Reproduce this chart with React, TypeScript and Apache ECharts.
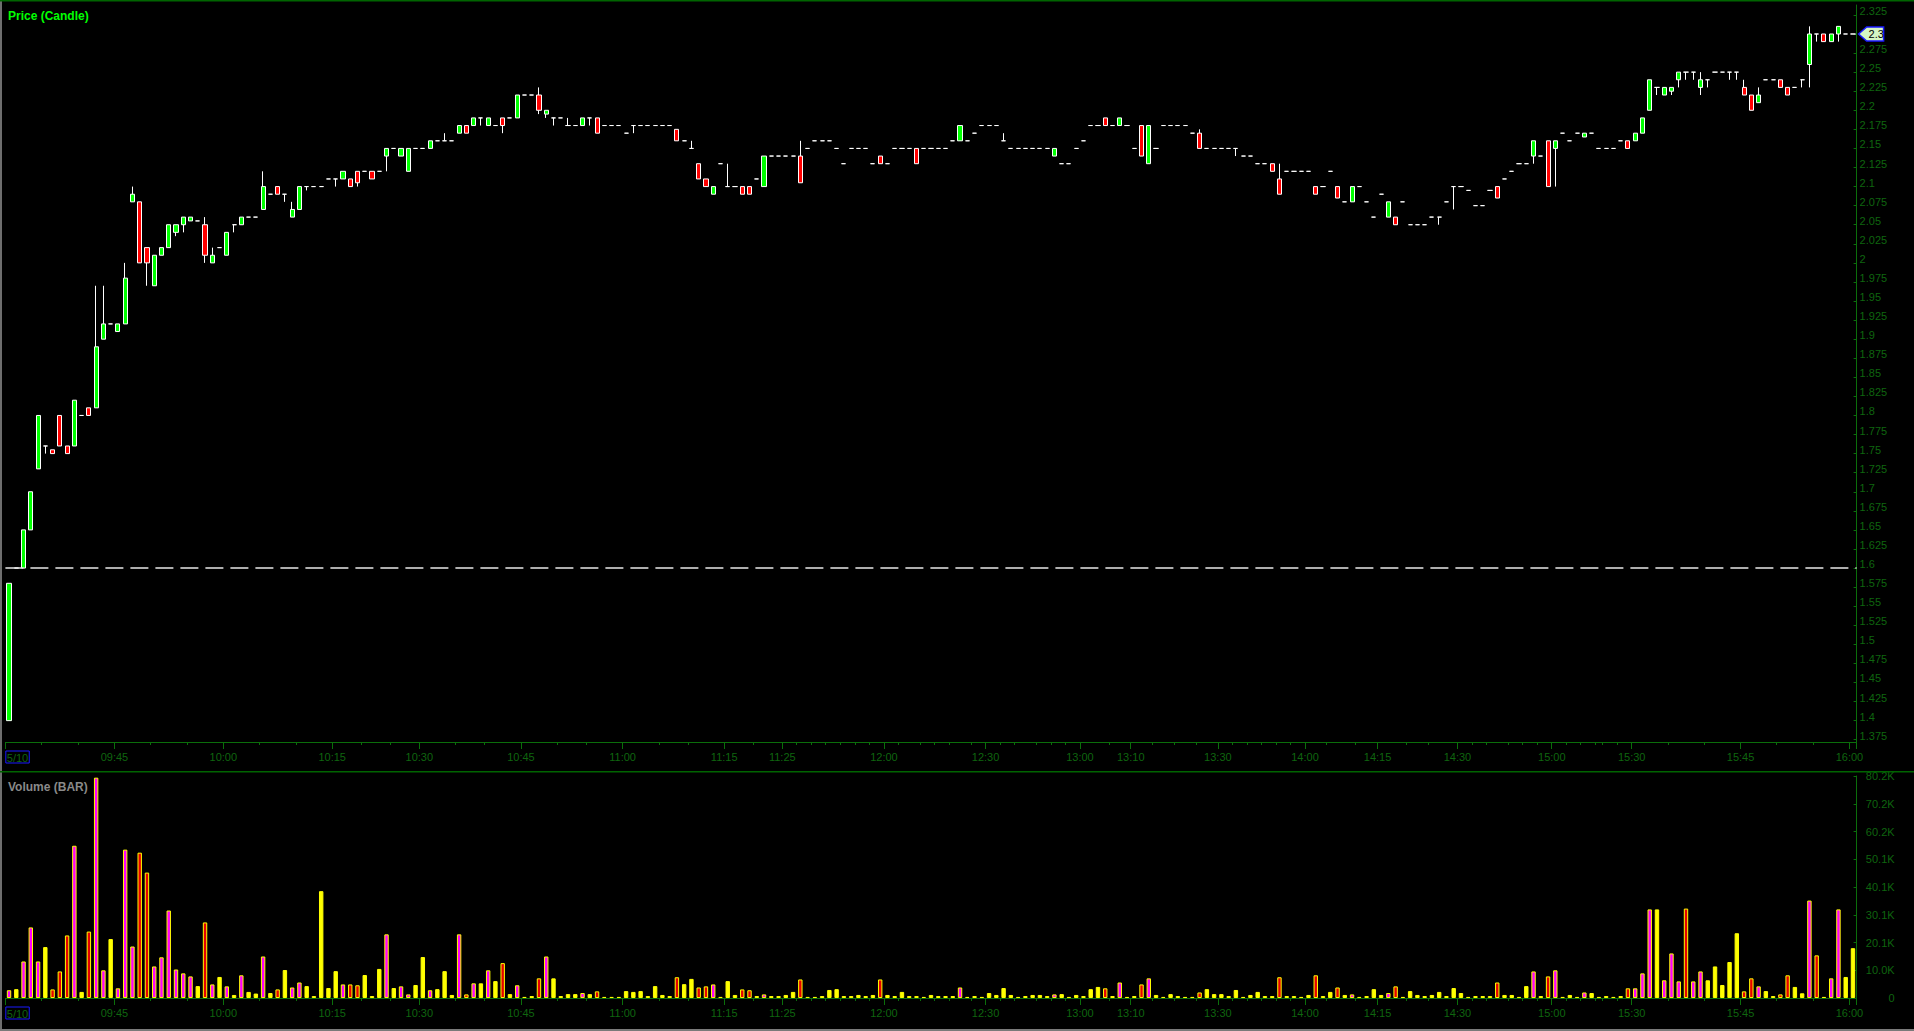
import React, { useEffect, useRef } from 'react';
import * as echarts from 'echarts';

// ---------- DATA ----------
// each row: [open, close, low, high]; [open, close] => no wicks; [price] => flat doji
const candles: number[][] = [
  [1.40, 1.58], [1.60], [1.60, 1.65], [1.65, 1.70], [1.73, 1.80],
  [1.76, 1.76, 1.75, 1.76], [1.755, 1.75], [1.80, 1.76], [1.76, 1.75], [1.76, 1.82], // 10
  [1.80], [1.81, 1.80], [1.81, 1.89, 1.81, 1.97], [1.90, 1.92, 1.90, 1.97], [1.92],
  [1.91, 1.92], [1.92, 1.98, 1.92, 2.00], [2.08, 2.09, 2.08, 2.10], [2.08, 2.00], [2.02, 2.00, 1.97, 2.02], // 20
  [1.97, 2.01], [2.01, 2.02], [2.02, 2.05], [2.04, 2.05, 2.035, 2.05], [2.05, 2.06, 2.04, 2.06],
  [2.055, 2.06], [2.055], [2.05, 2.01, 2.00, 2.06], [2.00, 2.01, 2.00, 2.02], [2.02], // 30
  [2.01, 2.04], [2.05, 2.05, 2.04, 2.05], [2.05, 2.06], [2.06], [2.06],
  [2.07, 2.10, 2.07, 2.12], [2.09], [2.10, 2.09], [2.09, 2.09, 2.08, 2.09], [2.06, 2.07, 2.06, 2.08], // 40
  [2.07, 2.10], [2.10, 2.10, 2.095, 2.10], [2.10], [2.10], [2.11],
  [2.11, 2.11, 2.10, 2.11], [2.11, 2.12], [2.11, 2.10], [2.12, 2.105, 2.10, 2.12], [2.12], // 50
  [2.12, 2.11], [2.12], [2.14, 2.15, 2.12, 2.15], [2.15], [2.14, 2.15],
  [2.12, 2.15], [2.15], [2.15], [2.15, 2.16], [2.16], // 60
  [2.16, 2.16, 2.16, 2.17], [2.16], [2.17, 2.18], [2.18, 2.17], [2.18, 2.19],
  [2.19, 2.19, 2.18, 2.19], [2.18, 2.19], [2.18], [2.19, 2.18, 2.17, 2.19], [2.19], // 70
  [2.19, 2.22], [2.22], [2.22], [2.22, 2.20, 2.195, 2.23], [2.195, 2.20, 2.19, 2.20],
  [2.19, 2.19, 2.18, 2.19], [2.19], [2.18, 2.18, 2.18, 2.19], [2.18], [2.18, 2.19], // 80
  [2.19, 2.19, 2.18, 2.19], [2.19, 2.17], [2.18], [2.18], [2.18],
  [2.17], [2.18, 2.18, 2.17, 2.18], [2.18], [2.18], [2.18], // 90
  [2.18], [2.18], [2.175, 2.16], [2.16], [2.15, 2.15, 2.15, 2.16],
  [2.13, 2.11], [2.11, 2.10], [2.09, 2.10], [2.13], [2.10, 2.10, 2.10, 2.13], // 100
  [2.10], [2.10, 2.09], [2.10, 2.09], [2.11], [2.10, 2.14],
  [2.14], [2.14], [2.14], [2.14], [2.14, 2.105, 2.105, 2.16], // 110
  [2.15], [2.16], [2.16], [2.16], [2.15],
  [2.13], [2.15], [2.15], [2.15], [2.13], // 120
  [2.14, 2.13], [2.13], [2.15], [2.15], [2.15],
  [2.15, 2.13], [2.15], [2.15], [2.15], [2.15], // 130
  [2.16], [2.16, 2.18], [2.16], [2.17], [2.18],
  [2.18], [2.18], [2.16, 2.16, 2.16, 2.17], [2.15], [2.15], // 140
  [2.15], [2.15], [2.15], [2.15], [2.14, 2.15],
  [2.13], [2.13], [2.15], [2.16], [2.18], // 150
  [2.18], [2.19, 2.18], [2.18], [2.18, 2.19], [2.18],
  [2.15], [2.18, 2.14], [2.13, 2.18], [2.15], [2.18], // 160
  [2.18], [2.18], [2.18], [2.17], [2.17, 2.15, 2.15, 2.175],
  [2.15], [2.15], [2.15], [2.15], [2.15, 2.15, 2.14, 2.15], // 170
  [2.14], [2.14], [2.13], [2.13], [2.13, 2.12],
  [2.11, 2.09, 2.09, 2.13], [2.12], [2.12], [2.12], [2.12], // 180
  [2.10, 2.09], [2.10], [2.12], [2.10, 2.085], [2.08],
  [2.08, 2.10], [2.10], [2.08], [2.06], [2.09], // 190
  [2.06, 2.08], [2.06, 2.05], [2.08], [2.05], [2.05],
  [2.05], [2.06], [2.06, 2.06, 2.05, 2.06], [2.08], [2.10, 2.10, 2.07, 2.10], // 200
  [2.10], [2.095], [2.075], [2.075], [2.095],
  [2.10, 2.085], [2.11], [2.12], [2.13], [2.13], // 210
  [2.14, 2.16, 2.13, 2.16], [2.14], [2.16, 2.10], [2.15, 2.16, 2.10, 2.16], [2.17],
  [2.16], [2.17], [2.165, 2.17], [2.17], [2.15], // 220
  [2.15], [2.15], [2.16], [2.16, 2.15], [2.16, 2.17],
  [2.17, 2.19], [2.20, 2.24], [2.23, 2.23, 2.22, 2.23], [2.22, 2.23], [2.225, 2.23, 2.22, 2.23], // 230
  [2.24, 2.25, 2.23, 2.25], [2.25, 2.25, 2.24, 2.25], [2.25, 2.25, 2.24, 2.25], [2.23, 2.24, 2.22, 2.25], [2.24, 2.24, 2.23, 2.24],
  [2.25], [2.25], [2.25, 2.25, 2.24, 2.25], [2.25, 2.25, 2.24, 2.25], [2.23, 2.22, 2.22, 2.24], // 240
  [2.22, 2.20], [2.21, 2.22, 2.21, 2.23], [2.24], [2.24], [2.24, 2.23],
  [2.23, 2.22], [2.23], [2.24, 2.24, 2.23, 2.24], [2.26, 2.30, 2.23, 2.31], [2.30, 2.30, 2.29, 2.30], // 250
  [2.30, 2.29], [2.29, 2.30], [2.30, 2.31, 2.29, 2.31], [2.30], [2.30], // 255
];

// volume in thousands, one per bar
const volumes: number[] = [
  2.8, 3.2, 13.2, 25.5, 13.2, 18.4, 3.1, 9.6, 22.6, 55.0,
  2.2, 24.0, 79.6, 10.0, 21.3, 3.5, 53.6, 18.6, 52.5, 45.3,
  11.4, 14.7, 31.6, 10.3, 8.9, 7.8, 4.3, 27.3, 4.9, 7.6,
  4.2, 1.1, 8.2, 2.2, 1.6, 15.0, 1.8, 3.1, 10.1, 3.8,
  5.6, 4.3, 0.7, 38.6, 3.6, 9.7, 4.9, 4.9, 4.6, 8.3,
  0.7, 10.5, 23.0, 3.6, 4.2, 1.3, 4.7, 14.8, 2.8, 3.2,
  9.7, 1.1, 23.0, 1.3, 5.3, 5.3, 10.0, 6.1, 12.6, 1.4,
  4.6, 0.4, 0.7, 7.1, 15.0, 7.1, 0.7, 1.4, 1.4, 1.8,
  1.4, 2.4, 0.4, 0.4, 0.4, 2.5, 2.2, 2.5, 0.7, 4.3,
  1.1, 0.7, 7.5, 5.0, 6.9, 3.8, 4.2, 4.9, 0.4, 6.1,
  1.1, 3.1, 2.8, 0.7, 1.3, 0.7, 0.7, 1.1, 2.2, 6.7,
  0.4, 0.4, 0.7, 2.9, 3.2, 0.7, 0.7, 1.1, 0.7, 1.1,
  6.7, 1.1, 0.7, 2.2, 0.7, 0.7, 0.4, 1.1, 0.7, 0.7,
  0.7, 3.8, 0.4, 0.7, 0.4, 1.8, 1.1, 3.6, 1.1, 0.4,
  0.7, 1.1, 1.1, 0.7, 1.3, 1.4, 0.4, 1.1, 0.7, 3.2,
  4.0, 3.5, 0.7, 5.6, 0.4, 0.7, 4.9, 7.1, 1.1, 0.4,
  1.4, 0.7, 0.4, 0.4, 2.0, 3.2, 1.4, 1.4, 0.7, 2.9,
  0.4, 1.1, 2.2, 0.7, 0.7, 7.5, 0.7, 0.7, 0.4, 1.1,
  8.2, 0.7, 2.2, 3.8, 1.1, 1.3, 0.4, 0.7, 3.2, 1.1,
  1.8, 4.2, 0.4, 2.5, 1.1, 0.7, 1.1, 2.2, 0.7, 3.6,
  1.8, 0.4, 0.7, 0.7, 0.7, 5.6, 1.1, 1.1, 0.4, 4.3,
  9.6, 0.7, 7.8, 10.0, 0.4, 1.1, 0.4, 2.0, 1.8, 0.4,
  0.7, 0.4, 0.7, 3.5, 3.5, 8.9, 32.0, 32.0, 6.4, 16.1,
  6.0, 32.3, 6.0, 9.6, 6.4, 11.4, 4.7, 13.0, 23.4, 2.4,
  7.1, 4.2, 2.5, 0.7, 1.3, 8.2, 4.0, 1.7, 35.2, 15.4,
  0.4, 7.1, 32.0, 7.6, 18.0,
];

// volume bar tone per bar: M = up (magenta), R = down (red), Y = neutral (yellow)
const volumeTones =
  'MYMMMYRRRM' + 'YRMMYMMMRR' + 'MMMMMMYRMY' + 'MYMYYMYRYM' + 'MYYYYYMRRY' +
  'YYMYMMYYMY' + 'YYMRMYMYRY' + 'MYYRMYYYYM' + 'YRYYYYYYYY' + 'YYRYYRRMYY' +
  'YRRYMYYYYR' + 'YYYYYYYYYY' + 'RYYYYYYYYY' + 'YMYYYYYYYY' + 'YYYYMYYYYY' +
  'YRYMYYRMYY' + 'YYYYRYYYYY' + 'YYYYYRYYYY' + 'RYYRYMYYYY' + 'MRYYYYYYYY' +
  'YYYYYRYYYY' + 'MYRMYYYMYY' + 'YYYRMMMYMM' + 'MRMMYYYYYR' + 'RMYYRRYYMR' +
  'YMMYY';

// time-axis labels: bar number (1-based) and text
const timeLabelBars = [1, 16, 31, 46, 58, 72, 86, 100, 108, 122, 136, 149, 156, 168, 180, 190, 201, 214, 225, 240, 255];
const timeLabels = ['5/10', '09:45', '10:00', '10:15', '10:30', '10:45', '11:00', '11:15', '11:25', '12:00', '12:30',
  '13:00', '13:10', '13:30', '14:00', '14:15', '14:30', '15:00', '15:30', '15:45', '16:00'];
const sessionOpen = '09:30';

const priceTicks = [1.375, 1.4, 1.425, 1.45, 1.475, 1.5, 1.525, 1.55, 1.575, 1.6, 1.625, 1.65, 1.675, 1.7,
  1.725, 1.75, 1.775, 1.8, 1.825, 1.85, 1.875, 1.9, 1.925, 1.95, 1.975, 2, 2.025, 2.05, 2.075, 2.1, 2.125,
  2.15, 2.175, 2.2, 2.225, 2.25, 2.275, 2.3, 2.325];
const priceMin = 1.372;
const priceMax = 2.338;
const prevClose = 1.6;
const lastPrice = 2.3;
const lastPriceText = '2.3';

const volTicks = [0, 10.025, 20.05, 30.075, 40.1, 50.125, 60.15, 70.175, 80.2];
const volTickLabels = ['0', '10.0K', '20.1K', '30.1K', '40.1K', '50.1K', '60.2K', '70.2K', '80.2K'];

// ---------- STYLE ----------
const W = 1914;
const H = 1031;
const GRID_LEFT = 5.4;
const GRID_W = 1851.2;
const AXIS_GREEN = '#0b6e0b';
const LABEL_GREEN = '#0f650f';
const FONT = '"Liberation Sans", Arial, sans-serif';
const toneColor: Record<string, string> = { M: '#ff00ff', R: '#e60000', Y: '#ffff00' };

function toMin(t: string) {
  const [h, m] = t.split(':').map(Number);
  return h * 60 + m;
}

export default function App() {
  const ref = useRef<HTMLDivElement>(null);

  useEffect(() => {
    document.body.style.margin = '0';
    document.body.style.background = '#000';
    const el = ref.current!;
    const chart = echarts.init(el, null, { renderer: 'svg', width: W, height: H });

    const ohlc = candles.map((r) =>
      r.length === 1
        ? [r[0], r[0], r[0], r[0]]
        : r.length === 2
        ? [r[0], r[1], Math.min(r[0], r[1]), Math.max(r[0], r[1])]
        : [r[0], r[1], r[2], r[3]]
    );
    const cats = ohlc.map((_, i) => String(i));

    const labelMap = new Map<number, string>();
    timeLabelBars.forEach((b, k) => labelMap.set(b - 1, timeLabels[k]));

    // minor ticks every 5 minutes, placed between the labelled bars
    const minorSet = new Set<number>();
    for (let k = 0; k < timeLabelBars.length - 1; k++) {
      const t1 = k === 0 ? toMin(sessionOpen) : toMin(timeLabels[k]);
      const t2 = toMin(timeLabels[k + 1]);
      const b1 = timeLabelBars[k] - 1;
      const b2 = timeLabelBars[k + 1] - 1;
      for (let m = Math.ceil((t1 + 1) / 5) * 5; m < t2; m += 5) {
        minorSet.add(Math.round(b1 + ((m - t1) / (t2 - t1)) * (b2 - b1)));
      }
    }

    const fmtTime = (_v: string, i: number) => {
      const s = labelMap.get(i);
      if (s === undefined) return '';
      if (i === 0) return '{sp| }{d|' + s + '}';
      return s;
    };

    const mainX = (gridIndex: number) => ({
      type: 'category',
      gridIndex,
      data: cats,
      boundaryGap: true,
      axisLine: { show: true, lineStyle: { color: AXIS_GREEN, width: 1 } },
      axisTick: {
        show: true,
        length: 7,
        interval: (i: number) => labelMap.has(i),
        lineStyle: { color: AXIS_GREEN },
      },
      axisLabel: {
        show: true,
        interval: (i: number) => labelMap.has(i),
        formatter: fmtTime,
        color: LABEL_GREEN,
        fontSize: 11,
        fontFamily: FONT,
        margin: 9,
        padding: [0, 7, 0, 0],
        rich: {
          sp: { width: 24, fontSize: 11 },
          d: {
            color: LABEL_GREEN,
            fontSize: 11,
            fontFamily: FONT,
            borderColor: '#1a1aff',
            borderWidth: 1,
            padding: [1, 1, 0, 1],
          },
        },
      },
      splitLine: { show: false },
    });
    const minorX = (gridIndex: number) => ({
      type: 'category',
      gridIndex,
      data: cats,
      boundaryGap: true,
      position: 'bottom',
      axisLine: { show: false },
      axisTick: {
        show: true,
        length: 3,
        interval: (i: number) => minorSet.has(i),
        lineStyle: { color: AXIS_GREEN },
      },
      axisLabel: { show: false },
      splitLine: { show: false },
    });

    const option: any = {
      animation: false,
      backgroundColor: '#000000',
      textStyle: { fontFamily: FONT },
      grid: [
        { left: GRID_LEFT, top: 5, width: GRID_W, height: 737, outerBoundsMode: 'none', containLabel: false },
        { left: GRID_LEFT, top: 776, width: GRID_W, height: 222, outerBoundsMode: 'none', containLabel: false },
      ],
      xAxis: [mainX(0), minorX(0), mainX(1), minorX(1)],
      yAxis: [
        {
          type: 'value',
          gridIndex: 0,
          position: 'right',
          min: priceMin,
          max: priceMax,
          scale: true,
          axisLine: { show: true, lineStyle: { color: AXIS_GREEN } },
          axisTick: { show: true, inside: true, length: 3, customValues: priceTicks, lineStyle: { color: AXIS_GREEN } },
          axisLabel: {
            show: true,
            customValues: priceTicks,
            // the last-price marker covers its own tick label
            formatter: (v: number) => (Math.abs(v - lastPrice) < 1e-9 ? '' : String(+v.toFixed(3))),
            color: LABEL_GREEN,
            fontSize: 11,
            fontFamily: FONT,
            margin: 3,
            align: 'left',
            verticalAlign: 'bottom',
            lineHeight: 8,
          },
          splitLine: { show: false },
        },
        {
          type: 'value',
          gridIndex: 1,
          position: 'right',
          min: 0,
          max: 80.2,
          axisLine: { show: true, lineStyle: { color: AXIS_GREEN } },
          axisTick: { show: true, inside: true, length: 3, customValues: volTicks, lineStyle: { color: AXIS_GREEN } },
          axisLabel: {
            show: true,
            customValues: volTicks,
            formatter: (v: number) => volTickLabels[Math.round(v / 10.025)] ?? '',
            color: LABEL_GREEN,
            fontSize: 11,
            fontFamily: FONT,
            margin: 38,
            align: 'right',
          },
          splitLine: { show: false },
        },
      ],
      series: [
        {
          type: 'candlestick',
          name: 'Price',
          xAxisIndex: 0,
          yAxisIndex: 0,
          barWidth: 4.6,
          data: ohlc,
          itemStyle: {
            color: '#00ff00',
            color0: '#ff0000',
            borderColor: '#ffffff',
            borderColor0: '#ffffff',
            borderColorDoji: '#ffffff',
            borderWidth: 1,
          },
          markLine: {
            silent: true,
            symbol: 'none',
            label: { show: false },
            lineStyle: { color: '#e8e8e8', width: 1.5, type: [18, 7] },
            data: [{ yAxis: prevClose }],
          },
        },
        {
          type: 'bar',
          name: 'Volume',
          xAxisIndex: 2,
          yAxisIndex: 1,
          barWidth: 4.4,
          data: volumes.map((v, i) => ({
            value: v,
            itemStyle: { color: toneColor[volumeTones[i]] || '#ffff00' },
          })),
          itemStyle: { borderColor: '#ffff00', borderWidth: 1 },
        },
      ],
    };

    chart.setOption(option);

    const ay = chart.convertToPixel({ yAxisIndex: 0 }, lastPrice) as number;
    const ax = GRID_LEFT + GRID_W + 1;

    chart.setOption({
      graphic: [
        { type: 'rect', z: 100, shape: { x: 0, y: 0, width: 2, height: H }, style: { fill: '#6e6e6e' } },
        { type: 'rect', z: 100, shape: { x: 0, y: 0, width: W, height: 1.5 }, style: { fill: '#006400' } },
        { type: 'rect', z: 99, shape: { x: 1858, y: 764, width: 56, height: 7 }, style: { fill: '#000000' } },
        { type: 'rect', z: 100, shape: { x: 0, y: 771, width: W, height: 1.5 }, style: { fill: '#006400' } },
        { type: 'rect', z: 100, shape: { x: 0, y: 1029, width: W, height: 2 }, style: { fill: '#7a7a7a' } },
        {
          type: 'text',
          z: 100,
          x: 8,
          y: 10,
          style: { text: 'Price (Candle)', fill: '#00ff00', font: 'bold 12px ' + FONT, textVerticalAlign: 'top' },
        },
        {
          type: 'text',
          z: 100,
          x: 8,
          y: 781,
          style: { text: 'Volume (BAR)', fill: '#8a8a8a', font: 'bold 12px ' + FONT, textVerticalAlign: 'top' },
        },
        {
          type: 'polygon',
          z: 101,
          shape: {
            points: [
              [ax + 1, ay],
              [ax + 9, ay - 7],
              [ax + 26, ay - 7],
              [ax + 26, ay + 7],
              [ax + 9, ay + 7],
            ],
          },
          style: { fill: '#d4f5c4', stroke: '#1a1aff', lineWidth: 1.5 },
        },
        {
          type: 'text',
          z: 102,
          x: ax + 11,
          y: ay,
          style: { text: lastPriceText, fill: '#000000', font: '11px ' + FONT, textVerticalAlign: 'middle' },
        },
      ],
    });

    return () => chart.dispose();
  }, []);

  return (
    <div
      ref={ref}
      style={{ position: 'fixed', left: 0, top: 0, width: W, height: H, background: '#000' }}
    />
  );
}
